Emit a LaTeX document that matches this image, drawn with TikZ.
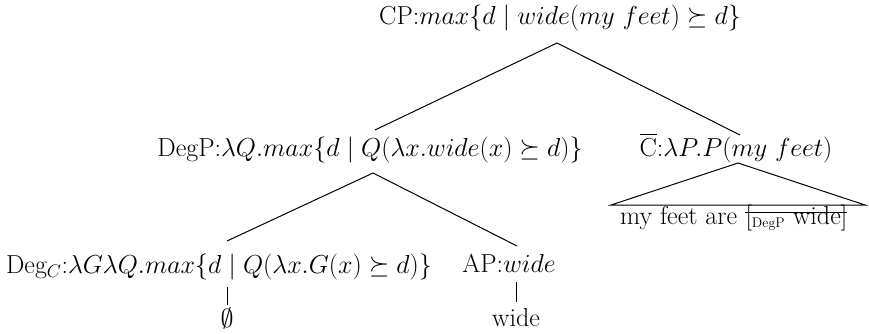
\documentclass[tikz,border=0pt]{standalone}
\usepackage{fix-cm}
\usepackage{amsmath}
\begin{document}
\begin{tikzpicture}[x=1pt,y=-1pt,
  lbl/.style={inner sep=0pt, font=\fontsize{26}{31}\selectfont},
  edge/.style={line width=1pt}]
\useasboundingbox (0,0) rectangle (869,333);
% labels
\node[lbl] (cp) at (560,18) {CP:$max\{d \mid wide(my\ feet) \succeq d\}$};
\node[lbl] (degp) at (370,150) {DegP:$\lambda Q.max\{d\mid Q(\lambda x.wide(x)\succeq d)\}$};
\node[lbl] (cbar) at (736,148) {$\overline{\mathrm{C}}$:$\lambda P.P(my\ feet)$};
\node[lbl] (degc) at (219,267) {Deg$_C$:$\lambda G\lambda Q.max\{d\mid Q(\lambda x.G(x)\succeq d)\}$};
\node[lbl] (ap) at (509,263) {AP:$wide$};
\node[lbl] (empty) at (227,318) {$\emptyset$};
\node[lbl] (wide) at (516,318) {wide};
\node[lbl, anchor=base west] (mf) at (620,224) {my feet are};
\node[lbl, anchor=base west] (strk) at ([xshift=8pt]mf.base east) {$[_{\text{\fontsize{14}{16}\selectfont DegP}}$\ wide$]$};
% anchor points
\coordinate (cpB) at (557,43);
\coordinate (degpT) at (375,130);
\coordinate (degpB) at (373,173);
\coordinate (cbarT) at (740,135);
\coordinate (cbarB) at (738,163);
\coordinate (triL) at (611,205);
\coordinate (triR) at (865,205);
\coordinate (degcT) at (227,241);
\coordinate (degcB) at (227,287);
\coordinate (emptyT) at (227,305);
\coordinate (apT) at (517,246);
\coordinate (apB) at (516,282);
\coordinate (wideT) at (516,302);
% edges
\draw[edge] (degpT) -- (cpB) -- (cbarT);
\draw[edge] (degcT) -- (degpB) -- (apT);
\draw[edge] (triL) -- (cbarB) -- (triR) -- cycle;
\draw[edge] (degcB) -- (emptyT);
\draw[edge] (apB) -- (wideT);
\draw[edge] ([yshift=12pt]strk.base west) -- ([yshift=12pt]strk.base east);
\end{tikzpicture}
\end{document}
